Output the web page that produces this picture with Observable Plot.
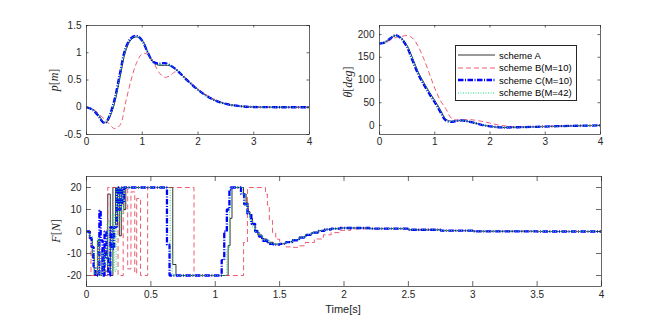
<!DOCTYPE html>
<html><head><meta charset="utf-8">
<script src="https://cdn.jsdelivr.net/npm/d3@7"></script>
<script src="https://cdn.jsdelivr.net/npm/@observablehq/plot@0.6"></script>
<style>
body{margin:0;background:#fff;}
#fig{position:relative;width:664px;height:321px;overflow:hidden;background:#fff;font-family:"Liberation Sans",Arial,sans-serif;}
#fig > svg{position:absolute;}
.ylab{position:absolute;font-family:"Liberation Serif","Times New Roman",serif;font-size:12px;color:#262626;transform:translate(-50%,-50%) rotate(-90deg);white-space:nowrap;line-height:1;}
.xlab{position:absolute;font-size:11px;color:#262626;transform:translate(-50%,-50%);white-space:nowrap;line-height:1;}
.legend{position:absolute;left:455px;top:45px;width:122px;height:56px;border:1px solid #262626;background:#fff;box-sizing:border-box;}
.legend .row{position:absolute;left:0;height:12px;display:flex;align-items:center;font-size:9.5px;color:#000;white-space:nowrap;}
#fig .legend .row svg{position:static;display:block;margin-left:2px;margin-right:4px;}
</style></head><body><div id="fig"></div>
<script>
// ---- data ----
const seriesNames = ["scheme A", "scheme B(M=10)", "scheme C(M=10)", "scheme B(M=42)"];

const pTime = [0,0.1,0.2,0.3,0.35,0.4,0.5,0.6,0.7,0.8,0.9,1.0,1.1,1.2,1.3,1.4,1.5,1.6,1.8,2.0,2.2,2.4,2.6,2.8,3.0,3.5,4.0];
const pA   = [0,-0.03,-0.12,-0.26,-0.28,-0.22,0.06,0.54,1.02,1.24,1.29,1.23,1.01,0.82,0.77,0.77,0.76,0.7,0.5,0.32,0.18,0.09,0.04,0.015,0.005,0,0];
const pB10 = [0,-0.03,-0.1,-0.2,-0.24,-0.3,-0.39,-0.33,0.08,0.5,0.82,0.98,0.97,0.83,0.64,0.55,0.58,0.65,0.52,0.33,0.19,0.1,0.045,0.018,0.006,0,0];
const pC10 = [0,-0.04,-0.14,-0.28,-0.28,-0.19,0.13,0.62,1.08,1.27,1.31,1.22,1.0,0.83,0.8,0.81,0.77,0.7,0.5,0.32,0.18,0.09,0.04,0.015,0.005,0,0];
const pB42 = [0,-0.035,-0.13,-0.27,-0.28,-0.2,0.09,0.58,1.05,1.26,1.3,1.22,1.0,0.82,0.78,0.79,0.77,0.7,0.5,0.32,0.18,0.09,0.04,0.015,0.005,0,0];

const thTime = [0,0.1,0.2,0.3,0.4,0.5,0.6,0.7,0.8,0.9,1.0,1.1,1.2,1.3,1.4,1.5,1.6,1.7,1.8,1.9,2.0,2.2,2.5,3.0,3.5,4.0];
const thA   = [180,183,192,198,192,176,148,118,95,74,55,35,14,9,10,11,9,6,3,0,-2,-4.5,-4,-2.5,-1,0];
const thB10 = [180,182,188,194,196,198,192,174,147,115,82,55,37,16,12,12,13,12,10,8,5,0,-3,-2,-1,0];
const thC10 = [180,183,192,199,190,172,142,113,90,70,51,30,11,8,10,11,9,6,3,0,-2,-4.5,-4,-2.5,-1,0];
const thB42 = [180,183,192,198,191,174,145,116,93,72,53,33,13,8.5,10,11,9,6,3,0,-2,-4.5,-4,-2.5,-1,0];

const fA_t = [0,0.025,0.045,0.06,0.085,0.1,0.12,0.14,0.165,0.185,0.205,0.225,0.24,0.255,0.27,0.29,0.305,0.67,0.695,1.1,1.115,1.13,1.22,1.24,1.255,1.27,1.29,1.31,1.33,1.36,1.4,1.45,1.5,1.55,1.6,1.65,1.7,1.75,1.8,1.85,1.9,1.97,2.05,2.2,2.5,2.75,3.0,3.5,4.0];
const fA   = [0,-3,-12,-20,-4,-20,-8,-18,17,-20,20,3,20,-2,20,10,20,-15,-20,-6.4,6,20,17,13,9,6,3,0.5,-1.5,-3.4,-4.9,-5.7,-5.5,-4.6,-3.7,-2.6,-1.4,-0.4,0.4,1.0,1.3,1.6,1.6,1.3,0.8,0.4,0.1,0,0];
const fB10_t = [0,0.02,0.035,0.085,0.1,0.165,0.245,0.285,0.32,0.345,0.375,0.39,0.42,0.475,0.835,1.22,1.25,1.39,1.405,1.42,1.445,1.47,1.5,1.55,1.6,1.65,1.7,1.77,1.84,1.9,1.97,2.05,2.2,2.5,2.75,3.0,3.5,4.0];
const fB10   = [0,-3,-20,-5,-20,20,-20,20,-17,18,-19,15,-20,20,-20,-5,20,17,12,5,-0.7,-3.5,-5.5,-7,-7.2,-6.5,-5,-3.4,-1.5,-0.5,0.5,1.2,1.4,0.8,0.4,0.1,0,0];
const fC10_t = [0,0.025,0.04,0.055,0.07,0.1,0.11,0.125,0.14,0.155,0.17,0.185,0.2,0.215,0.235,0.25,0.265,0.275,0.29,0.625,0.645,1.05,1.07,1.09,1.11,1.12,1.2,1.225,1.25,1.28,1.31,1.34,1.37,1.41,1.45,1.5,1.55,1.6,1.65,1.7,1.75,1.8,1.85,1.9,1.97,2.05,2.2,2.5,2.75,3.0,3.5,4.0];
const fC10   = [0,-3,-7,-16,-20,9.5,-4,-20,0,-12,-20,2,-8,2,20,10,20,13,20,-6,-20,-13,0,10,19,20,17,12.3,8,3.5,0,-2.3,-4.2,-5.6,-6,-5.6,-4.8,-4,-2.8,-1.5,-0.5,0.3,0.9,1.3,1.6,1.6,1.3,0.8,0.4,0.1,0,0];
const fB42_t = [0,0.025,0.045,0.06,0.085,0.1,0.12,0.14,0.16,0.18,0.2,0.215,0.23,0.245,0.26,0.275,0.29,0.65,0.665,1.09,1.11,1.125,1.21,1.23,1.25,1.27,1.29,1.31,1.34,1.37,1.42,1.47,1.5,1.55,1.6,1.65,1.7,1.75,1.8,1.85,1.9,1.97,2.05,2.2,2.5,2.75,3.0,3.5,4.0];
const fB42   = [0,-2,-10,-19,-3,-20,-10,-15,5,-18,8,-18,20,5,20,8,20,-10,-20,-8,10,20,17,12,8,5,2,0,-2,-4,-5.4,-5.8,-5.6,-4.7,-3.8,-2.7,-1.4,-0.4,0.4,1.0,1.3,1.6,1.6,1.3,0.8,0.4,0.1,0,0];

const timeTicksTop = [0,1,2,3,4];
const timeTicksBottom = [0,0.5,1,1.5,2,2.5,3,3.5,4];
const pTicks = [-0.5,0,0.5,1,1.5];
const thTicks = [0,50,100,150,200];
const fTicks = [-20,-10,0,10,20];

// ---- styles ----
const styles = [
  {stroke:"#000000", strokeWidth:0.8},
  {stroke:"#e8344f", strokeWidth:0.8, strokeDasharray:"5,3"},
  {stroke:"#0000ff", strokeWidth:2.3, strokeDasharray:"5.5,1.5,1,1.5"},
  {stroke:"#1fd97a", strokeWidth:1, strokeDasharray:"1,1.5"}
];
const axisColor = "#262626";

const zip = (t, v) => t.map((x, i) => ({t: x, v: v[i]}));

function panel({series, curve, xDomain, yDomain, xTicks, yTicks, width, height, m, tick, xPad, yPad}) {
  const innerW = width - m[3] - m[1];
  const innerH = height - m[0] - m[2];
  return Plot.plot({
    width, height,
    marginTop: m[0], marginRight: m[1], marginBottom: m[2], marginLeft: m[3],
    x: {domain: xDomain},
    y: {domain: yDomain},
    style: {fontFamily: "Liberation Sans, Arial, sans-serif", fontSize: "10px", color: axisColor, background: "transparent", overflow: "visible"},
    marks: [
      ...series.map((d, i) => Plot.line(d, {x: "t", y: "v", curve, clip: true, strokeLinecap: "butt", strokeLinejoin: "miter", ...styles[i]})),
      Plot.frame({stroke: axisColor, strokeWidth: 0.7}),
      Plot.tickX(xTicks, {x: d => d, insetTop: innerH - tick, stroke: axisColor, strokeWidth: 0.7}),
      Plot.tickX(xTicks, {x: d => d, insetBottom: innerH - tick, stroke: axisColor, strokeWidth: 0.7}),
      Plot.tickY(yTicks, {y: d => d, insetRight: innerW - tick, stroke: axisColor, strokeWidth: 0.7}),
      Plot.tickY(yTicks, {y: d => d, insetLeft: innerW - tick, stroke: axisColor, strokeWidth: 0.7}),
      Plot.axisX({ticks: xTicks, tickSize: 0, tickPadding: xPad, tickFormat: d => String(d), label: null, fill: axisColor}),
      Plot.axisY({ticks: yTicks, tickSize: 0, tickPadding: yPad, tickFormat: d => String(d), label: null, fill: axisColor})
    ]
  });
}

const fig = document.getElementById("fig");

const p1 = panel({
  series: [zip(pTime, pA), zip(pTime, pB10), zip(pTime, pC10), zip(pTime, pB42)],
  curve: "catmull-rom", xDomain: [0, 4], yDomain: [-0.5, 1.5],
  xTicks: timeTicksTop, yTicks: pTicks,
  width: 330, height: 160, m: [25, 21, 26, 86], tick: 2.5, xPad: 3, yPad: 5
});
p1.style.left = "0px"; p1.style.top = "0px";
fig.appendChild(p1);

const p2 = panel({
  series: [zip(thTime, thA), zip(thTime, thB10), zip(thTime, thC10), zip(thTime, thB42)],
  curve: "catmull-rom", xDomain: [0, 4], yDomain: [-20, 220],
  xTicks: timeTicksTop, yTicks: thTicks,
  width: 300, height: 160, m: [25, 30, 26, 49], tick: 2.5, xPad: 3, yPad: 5
});
p2.style.left = "330px"; p2.style.top = "0px";
fig.appendChild(p2);

const p3 = panel({
  series: [zip(fA_t, fA), zip(fB10_t, fB10), zip(fC10_t, fC10), zip(fB42_t, fB42)],
  curve: "step-after", xDomain: [0, 4], yDomain: [-25, 25],
  xTicks: timeTicksBottom, yTicks: fTicks,
  width: 664, height: 161, m: [16, 63, 35, 86], tick: 5, xPad: 4, yPad: 5
});
p3.style.left = "0px"; p3.style.top = "160px";
fig.appendChild(p3);

// axis labels
function addLabel(cls, html, x, y) {
  const d = document.createElement("div");
  d.className = cls; d.innerHTML = html;
  d.style.left = x + "px"; d.style.top = y + "px";
  fig.appendChild(d);
}
addLabel("ylab", "<i>p</i>[<i>m</i>]", 54, 80);
addLabel("ylab", "<i>θ</i>[<i>deg</i>]", 348, 82);
addLabel("ylab", "<i>F</i>[<i>N</i>]", 56, 231);
addLabel("xlab", "Time[s]", 343, 309);

// legend
const lg = document.createElement("div");
lg.className = "legend";
const rowTops = [3, 15.5, 28, 40.5];
seriesNames.forEach((name, i) => {
  const row = document.createElement("div");
  row.className = "row";
  row.style.top = rowTops[i] + "px";
  const s = styles[i];
  row.innerHTML = `<svg width="37" height="6"><line x1="0" y1="3" x2="37" y2="3" stroke="${s.stroke}" stroke-width="${s.strokeWidth}" ${s.strokeDasharray ? `stroke-dasharray="${s.strokeDasharray}"` : ""}/></svg><span>${name}</span>`;
  lg.appendChild(row);
});
fig.appendChild(lg);
</script></body></html>
